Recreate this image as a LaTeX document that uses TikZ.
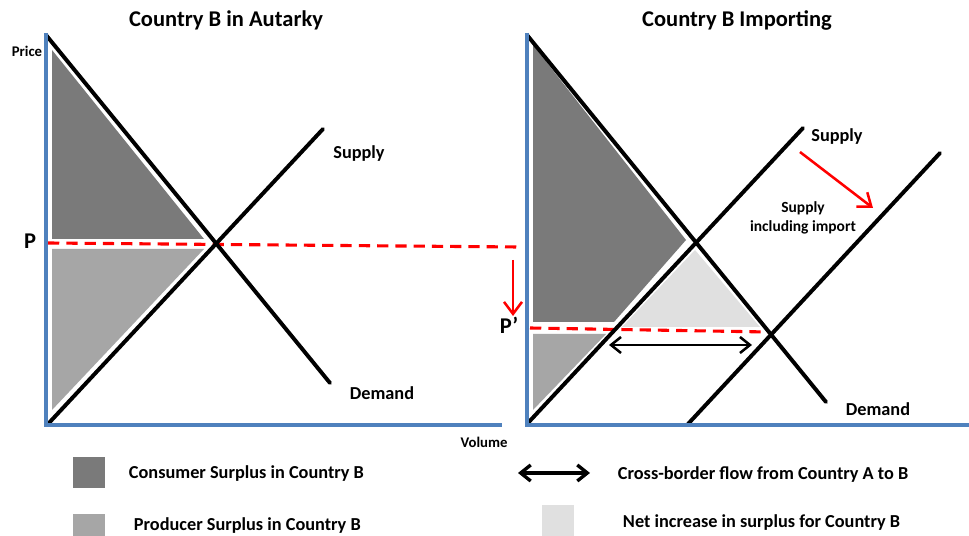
\documentclass[tikz,border=0pt]{standalone}
\usepackage{fontspec}
\setmainfont{Carlito}
\usetikzlibrary{arrows.meta,positioning}
\definecolor{axisblue}{RGB}{79,129,189}
\definecolor{csgray}{RGB}{122,122,122}
\definecolor{psgray}{RGB}{166,166,166}
\definecolor{netgray}{RGB}{224,224,224}
\definecolor{pricered}{RGB}{255,0,0}
\tikzset{
  axis/.style={axisblue,line width=2.2pt},
  curve/.style={black,line width=2.8pt,line cap=round},
  pline/.style={pricered,line width=2.2pt,dash pattern=on 8pt off 5pt},
  shiftarrow/.style={pricered,line width=1.8pt,-{Straight Barb[length=3mm,width=4.5mm]}},
  flowarrow/.style={black,line width=1.8pt,{Straight Barb[length=2.5mm,width=4mm]}-{Straight Barb[length=2.5mm,width=4mm]}},
  title/.style={font=\bfseries\fontsize{16}{18}\selectfont},
  lbl/.style={font=\bfseries\fontsize{13}{15}\selectfont,align=center},
  small/.style={font=\bfseries\fontsize{10.5}{12}\selectfont},
  legend/.style={font=\bfseries\fontsize{13}{15}\selectfont,anchor=west}
}
\begin{document}
\begin{tikzpicture}[x=0.025cm,y=-0.025cm]
\useasboundingbox[fill=white] (0,0) rectangle (969,536);
% left panel: autarky
\fill[csgray] (52,50) -- (52,239) -- (204,239) -- cycle;
\fill[psgray] (52,249) -- (204,249) -- (52,410) -- cycle;
\draw[pline] (48,243) -- (518,247);
\draw[curve] (46,35) coordinate (dA) -- (330,383) coordinate (dB);
\draw[curve] (48,424) coordinate (sA) -- (323,129) coordinate (sB);
\draw[axis] (46,33) -- (46,427);
\draw[axis] (44,425) -- (502,425);
% right panel: importing
\fill[csgray] (533,45) -- (686,240) -- (614,322) -- (533,322) -- cycle;
\fill[netgray] (695,250) -- (760,327) -- (622,327) -- cycle;
\fill[psgray] (533,334) -- (606,334) -- (533,410) -- cycle;
\draw[pline] (530,328) -- (768,332);
\draw[curve] (527,35) coordinate (dC) -- (826,402) coordinate (dD);
\draw[curve] (527,424) coordinate (sC) -- (803,128) coordinate (sD);
\draw[curve] (688,424) coordinate (iA) -- (940,153) coordinate (iB);
\draw[axis] (527,33) -- (527,427);
\draw[axis] (525,425) -- (969,425);
% shifts and flow
\coordinate (pFrom) at (513,260);
\coordinate (pTo) at (513,316);
\coordinate (sFrom) at (800,152);
\coordinate (sTo) at (873,208);
\coordinate (fL) at (609,345);
\coordinate (fR) at (752,345);
\draw[shiftarrow] (pFrom) -- (pTo);
\draw[shiftarrow] (sFrom) -- (sTo);
\draw[flowarrow] (fL) -- (fR);
% labels
\node[title] (tA) at (226,20) {Country B in Autarky};
\node[title] (tB) at (737,21) {Country B Importing};
\node[small] (price) at (27,51) {Price};
\node[title] (p) at (30,241) {P};
\node[title] (pp) at (509,325) {P’};
\node[lbl] (supA) at (359,154) {Supply};
\node[lbl] (demA) at (382,393) {Demand};
\node[small] (vol) at (484,442) {Volume};
\node[lbl] (supB) at (837,137) {Supply};
\node[small,align=center,font=\bfseries\fontsize{11}{13}\selectfont] (supI) at (803,218) {Supply\\including import};
\node[lbl] (demB) at (878,409) {Demand};
% legend
\fill[csgray] (73,457) rectangle (105,488);
\fill[psgray] (73,514) rectangle (105,536);
\fill[netgray] (542,505) rectangle (574,536);
\coordinate (lgL) at (518,473);
\coordinate (lgR) at (590,473);
\draw[flowarrow,line width=2.4pt] (lgL) -- (lgR);
\node[legend] (lcs) at (124,474) {Consumer Surplus in Country B};
\node[legend] (lps) at (129,526) {Producer Surplus in Country B};
\node[legend] (lfl) at (613,475) {Cross-border flow from Country A to B};
\node[legend] (lnet) at (618,523) {Net increase in surplus for Country B};
\end{tikzpicture}
\end{document}
